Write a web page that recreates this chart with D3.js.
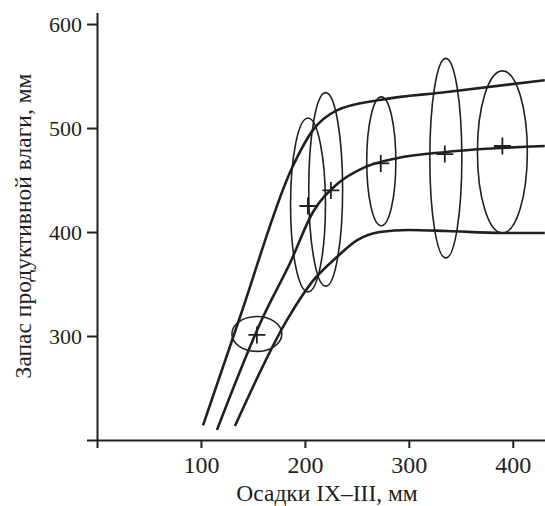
<!DOCTYPE html>
<html lang="ru">
<head>
<meta charset="utf-8">
<script src="https://cdn.jsdelivr.net/npm/d3@7/dist/d3.min.js"></script>
<style>
  body { margin: 0; background: #fff; }
  svg { display: block; }
</style>
</head>
<body>
<script>
    var w = 545, h = 506;

    // upper, middle and lower curves
    var upperX = [102, 137.5, 188, 207.7, 230.8, 272, 336.5, 430.8];
    var upperY = [214, 318, 462.5, 498, 517, 527, 534.6, 546];
    var middleX = [115.4, 159.6, 185.6, 207.7, 230.8, 255.8, 288.5, 336.5, 430.8];
    var middleY = [209.6, 318, 370, 419, 446, 461.5, 471, 477, 482.7];
    var lowerX = [132.7, 183.7, 207.7, 230.8, 250, 272, 300, 336.5, 390, 430.8];
    var lowerY = [213.5, 317, 353, 376, 392, 400, 402, 401, 399, 399];

    // points (+) and their ellipses
    var meanX = [153.8, 202.9, 225, 273, 334.6, 390];
    var meanY = [301, 425, 440, 466, 475, 482.7];
    var ellCx = [153.8, 203, 220, 273.5, 335.6, 390];
    var ellCy = [302, 426, 441, 468, 471, 477];
    var ellRx = [24, 16.8, 16.3, 14, 15.4, 24];
    var ellRy = [16.8, 83.6, 93, 62, 96, 78];

    var xTicks = [0, 100, 200, 300, 400];
    var yTicks = [200, 300, 400, 500, 600];

    var ink = '#231f20';
    var font = '"Liberation Serif", "Times New Roman", serif';

    var x = d3.scaleLinear().domain([0, 431]).range([97, 545]);
    var y = d3.scaleLinear().domain([200, 611]).range([440, 12.6]);

    var svg = d3.select('body').append('svg')
        .attr('width', w).attr('height', h);

    // axes
    var xAxis = svg.append('g')
        .attr('transform', 'translate(0,' + y(200) + ')')
        .call(d3.axisBottom(x).tickValues(xTicks).tickSizeInner(8).tickSizeOuter(0)
            .tickPadding(8)
            .tickFormat(function(d) { return d === 0 ? '' : d; }));
    var yAxis = svg.append('g')
        .attr('transform', 'translate(' + x(0) + ',0)')
        .call(d3.axisLeft(y).tickValues(yTicks).tickSizeInner(10).tickSizeOuter(0)
            .tickPadding(5)
            .tickFormat(function(d) { return d === 200 ? '' : d; }));

    [xAxis, yAxis].forEach(function(g) {
        g.selectAll('path, line').attr('stroke', ink).attr('stroke-width', 2);
        g.selectAll('text').attr('fill', ink).attr('font-family', font);
    });
    xAxis.selectAll('text').attr('font-size', 24);
    yAxis.selectAll('text').attr('font-size', 22);

    svg.append('text')
        .attr('x', 327).attr('y', 501)
        .attr('text-anchor', 'middle')
        .attr('font-family', font).attr('font-size', 23.5).attr('fill', ink)
        .text('Осадки IX–III, мм');

    svg.append('text')
        .attr('transform', 'translate(31,226) rotate(-90)')
        .attr('text-anchor', 'middle')
        .attr('font-family', font).attr('font-size', 23.5).attr('fill', ink)
        .text('Запас продуктивной влаги, мм');

    // ellipses
    svg.selectAll('ellipse')
        .data(ellCx)
        .enter()
        .append('ellipse')
        .attr('cx', function(d) { return x(d); })
        .attr('cy', function(d, i) { return y(ellCy[i]); })
        .attr('rx', function(d, i) { return x(d + ellRx[i]) - x(d); })
        .attr('ry', function(d, i) { return y(ellCy[i]) - y(ellCy[i] + ellRy[i]); })
        .attr('fill', 'none')
        .attr('stroke', ink)
        .attr('stroke-width', 1.6);

    // curves
    var line = d3.line()
        .x(function(d) { return x(d[0]); })
        .y(function(d) { return y(d[1]); })
        .curve(d3.curveMonotoneX);

    [[upperX, upperY], [middleX, middleY], [lowerX, lowerY]].forEach(function(s) {
        svg.append('path')
            .attr('d', line(d3.zip(s[0], s[1])))
            .attr('fill', 'none')
            .attr('stroke', ink)
            .attr('stroke-width', 2.6);
    });

    // plus markers
    var arm = 8.5;
    svg.selectAll('path.mean')
        .data(meanX)
        .enter()
        .append('path')
        .attr('class', 'mean')
        .attr('d', function(d, i) {
            var px = x(d), py = y(meanY[i]);
            return 'M' + (px - arm) + ',' + py + 'H' + (px + arm) +
                'M' + px + ',' + (py - arm) + 'V' + (py + arm);
        })
        .attr('stroke', ink)
        .attr('stroke-width', 1.8);
</script>
</body>
</html>
